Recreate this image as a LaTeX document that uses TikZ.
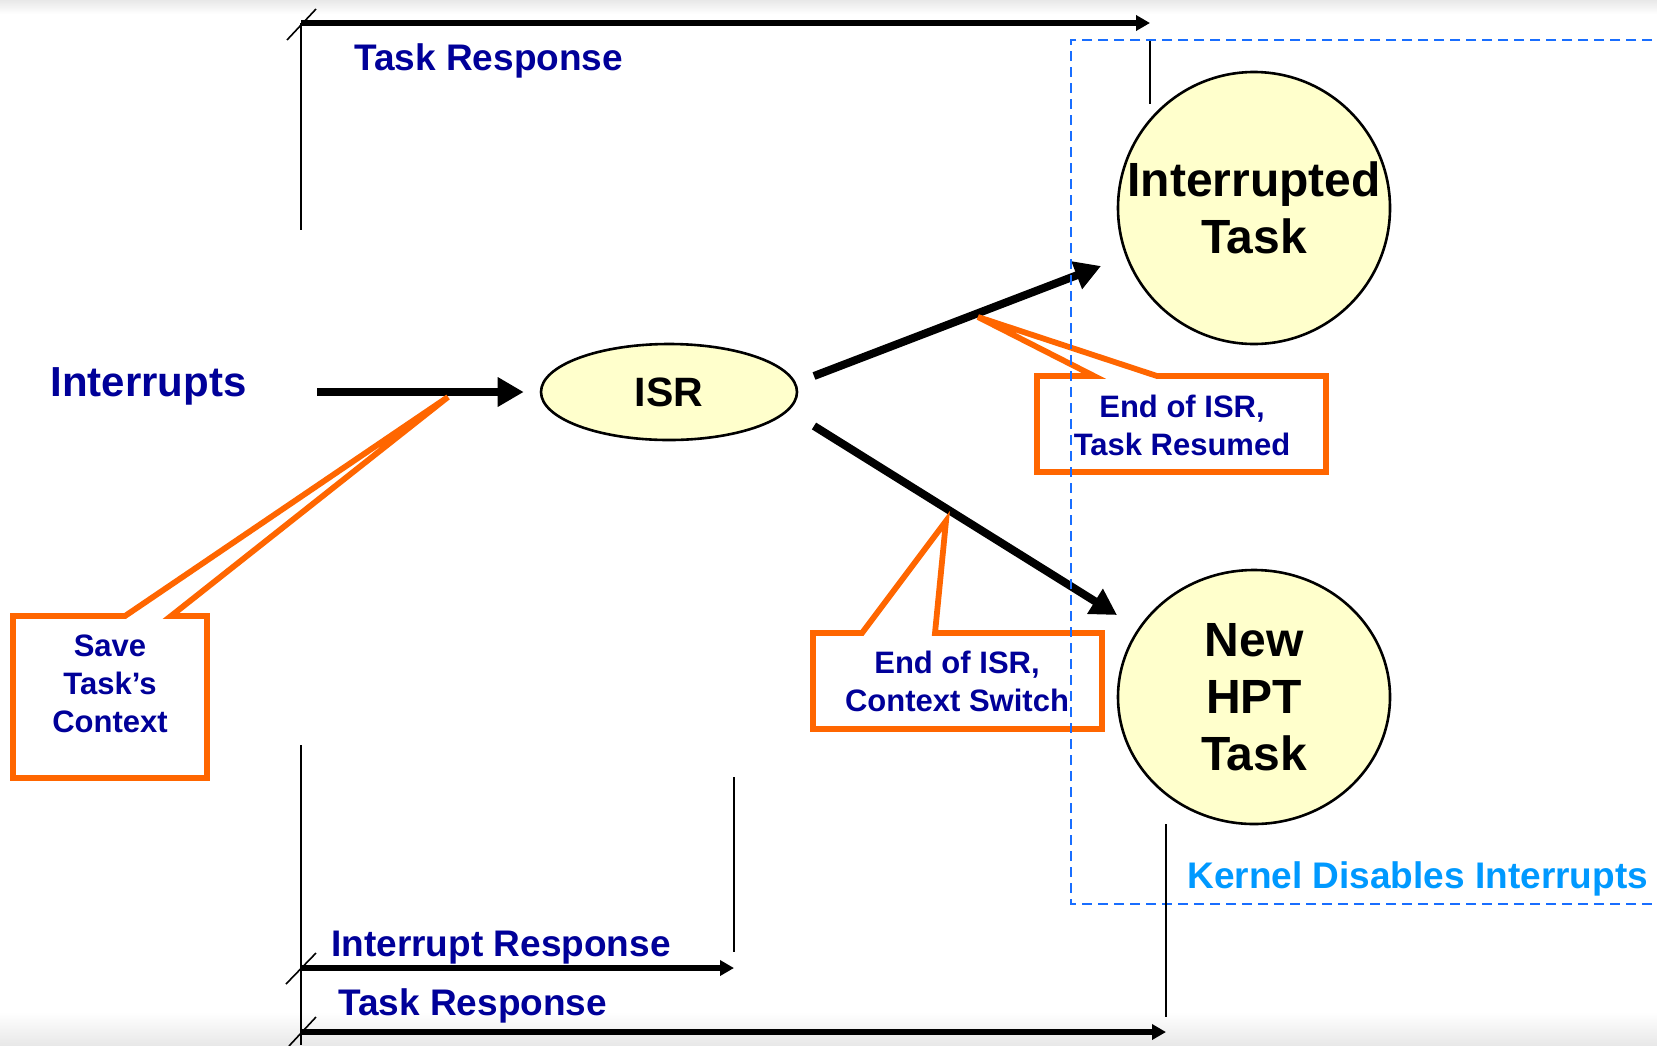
\documentclass[tikz,border=0pt]{standalone}
\usepackage{fontspec}
\setmainfont{Liberation Sans}
\usetikzlibrary{arrows.meta,shapes.geometric}
\definecolor{navy}{RGB}{0,0,153}
\definecolor{orng}{RGB}{255,102,0}
\definecolor{kblue}{RGB}{0,153,255}
\definecolor{dblue}{RGB}{25,110,255}
\definecolor{tfill}{RGB}{255,255,204}
\definecolor{bgray}{RGB}{232,232,232}
\begin{document}
\begin{tikzpicture}[x=0.5pt,y=-0.5pt,
  lbl/.style={text=navy,font=\fontsize{18.5}{22}\selectfont\bfseries,inner sep=0pt},
  calltext/.style={text=navy,font=\fontsize{15.5}{19}\selectfont\bfseries,inner sep=0pt,align=center},
  callout/.style={draw=orng,line width=2.9pt,fill=white,line join=miter},
  task/.style={ellipse,draw=black,line width=1.3pt,fill=tfill,inner sep=0pt},
  tasktext/.style={align=center,inner sep=0pt,font=\fontsize{24}{28.5}\selectfont\bfseries},
  bigarrow/.style={line width=4pt,-{Triangle[length=13pt,width=14pt]}},
  timearrow/.style={line width=2.6pt,-{Triangle[length=7pt,width=7.5pt]}},
  vline/.style={line width=1.3pt},
  slash/.style={line width=0.8pt},
  kdash/.style={draw=dblue,line width=1.4pt,dash pattern=on 5pt off 3pt}
]
\clip (0,0) rectangle (1657,1045);
\fill[white] (0,0) rectangle (1657,1045);
\shade[top color=bgray,bottom color=white] (0,0) rectangle (1657,14);
\shade[top color=white,bottom color=bgray] (0,1012) rectangle (1657,1045);

% top timeline
\coordinate (t0) at (301,23);
\coordinate (t1) at (1150,23);
\coordinate (t0b) at (301,230);
\coordinate (t1a) at (1150,40);
\coordinate (t1b) at (1150,104);
\coordinate (ts0) at (287,40);
\coordinate (ts1) at (316,9);
\draw[timearrow] (t0) -- (t1);
\draw[vline] (t0) -- (t0b);
\draw[vline] (t1a) -- (t1b);
\draw[slash] (ts0) -- (ts1);
\node[lbl,anchor=base west] (trtop) at (354,70) {Task Response};

% nodes
\node[lbl,font=\fontsize{21}{25}\selectfont\bfseries,anchor=base west] (intr) at (50,396) {Interrupts};
\node[ellipse,draw=black,line width=1.3pt,fill=tfill,minimum width=128pt,minimum height=48pt,inner sep=0pt,
      font=\fontsize{20.5}{24}\selectfont\bfseries] (isr) at (669,392) {ISR};
\node[task,minimum width=136pt,minimum height=136pt] (it) at (1254,208) {};
\node[tasktext] (itlbl) at (it.center) {Interrupted\\Task};
\node[task,minimum width=136pt,minimum height=127pt] (hpt) at (1254,697) {};
\node[tasktext] (hptlbl) at (hpt.center) {New\\HPT\\Task};

% arrows
\coordinate (a0) at (317,392);
\coordinate (s1) at (814,376);
\coordinate (e1) at (1101,266);
\coordinate (s2) at (814,426);
\coordinate (e2) at (1117,615);
\draw[bigarrow,shorten >=8pt] (a0) -- (isr.west);
\draw[bigarrow] (s1) -- (e1);
\draw[bigarrow] (s2) -- (e2);

% callouts
\draw[callout] (13,616) -- (125,616) -- (448,397) -- (171,616) -- (207,616) -- (207,778) -- (13,778) -- cycle;
\node[calltext] (save) at (110,684) {Save\\Task’s\\Context};

\draw[callout] (1037,376) -- (1094,376) -- (978,317) -- (1157,376) -- (1326,376) -- (1326,472) -- (1037,472) -- cycle;
\node[calltext] (resumed) at (1182,425) {End of ISR,\\Task Resumed};

\draw[callout] (813,633) -- (862,633) -- (946,521) -- (935,633) -- (1102,633) -- (1102,729) -- (813,729) -- cycle;
\node[calltext] (cswitch) at (957,681) {End of ISR,\\Context Switch};

% kernel disables interrupts region
\draw[kdash] (1700,40) -- (1071,40) -- (1071,904) -- (1700,904);
\node[lbl,text=kblue,anchor=base west] (kernel) at (1187,888) {Kernel Disables Interrupts};

% bottom timelines
\coordinate (b0) at (301,745);
\coordinate (b0b) at (301,1045);
\coordinate (ir0) at (301,968);
\coordinate (ir1) at (734,968);
\coordinate (ir1a) at (734,777);
\coordinate (ir1b) at (734,952);
\coordinate (tr0) at (301,1032);
\coordinate (tr1) at (1166,1032);
\coordinate (tr1a) at (1166,824);
\coordinate (tr1b) at (1166,1017);
\coordinate (bs0) at (286,984);
\coordinate (bs1) at (316,953);
\coordinate (bs2) at (289,1046);
\coordinate (bs3) at (316,1017);
\draw[vline] (b0) -- (b0b);
\draw[vline] (ir1a) -- (ir1b);
\draw[vline] (tr1a) -- (tr1b);
\draw[timearrow] (ir0) -- (ir1);
\draw[timearrow] (tr0) -- (tr1);
\draw[slash] (bs0) -- (bs1);
\draw[slash] (bs2) -- (bs3);
\node[lbl,anchor=base west] (irlbl) at (331,956) {Interrupt Response};
\node[lbl,anchor=base west] (trbot) at (338,1015) {Task Response};
\end{tikzpicture}
\end{document}
